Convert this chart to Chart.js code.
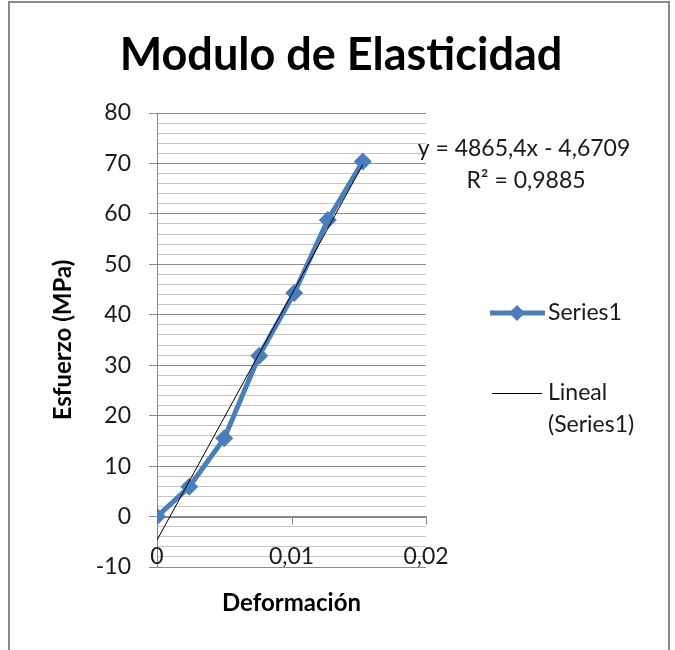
<!DOCTYPE html>
<html>
<head>
<meta charset="utf-8">
<script src="https://cdn.jsdelivr.net/npm/chart.js@4.4.0/dist/chart.umd.min.js"></script>
<style>
    html, body { margin: 0; padding: 0; background: #fff; }
    #wrap { width: 675px; height: 650px; position: relative; }
</style>
</head>
<body>
<div id="wrap"><canvas id="myChart" width="675" height="650"></canvas></div>
<script>
// data
const deformacion = [0, 0.0024, 0.005, 0.0076, 0.0102, 0.0127, 0.0153];
const esfuerzo = [0, 5.9, 15.5, 31.9, 44.3, 58.8, 70.4];
const xTicks = [0, 0.01, 0.02];
const yMin = -10, yMax = 80, yMinorStep = 2, yMajorStep = 10;

// linear trend line (Excel "Lineal")
const trendSlope = 4865.4;
const trendIntercept = -4.6709;
const trendR2 = 0.9885;

const FONT = 'Lato, "Open Sans", sans-serif';
const blue = '#4A7EBB';
const comma = v => String(v).replace('.', ',');

const seriesPts = deformacion.map((x, i) => ({ x: x, y: esfuerzo[i] }));
const xLast = Math.max(...deformacion);
const trendPts = [0, xLast].map(x => ({ x: x, y: trendSlope * x + trendIntercept }));

const decor = {
    id: 'decor',
    beforeDatasetsDraw(chart) {
        const { ctx, scales: { x, y } } = chart;
        const y0 = y.getPixelForValue(0);
        ctx.save();
        ctx.strokeStyle = '#868686';
        ctx.lineWidth = 1;
        ctx.beginPath();
        ctx.moveTo(x.left, Math.round(y0) + 0.5);
        ctx.lineTo(x.right, Math.round(y0) + 0.5);
        xTicks.forEach(v => {
            const px = Math.round(x.getPixelForValue(v)) + 0.5;
            ctx.moveTo(px, y0);
            ctx.lineTo(px, y0 + 8);
        });
        ctx.stroke();

        // x tick labels sit low, across the bottom gridlines
        ctx.fillStyle = '#1a1a1a';
        ctx.font = '23px ' + FONT;
        ctx.textAlign = 'center';
        ctx.textBaseline = 'middle';
        xTicks.forEach(v => ctx.fillText(comma(v), x.getPixelForValue(v), 557));
        ctx.restore();
    },
    afterDraw(chart) {
        const { ctx } = chart;
        const ds = chart.data.datasets;
        ctx.save();

        // chart title
        ctx.fillStyle = '#000';
        ctx.font = 'bold 45px ' + FONT;
        ctx.textAlign = 'center';
        ctx.textBaseline = 'alphabetic';
        ctx.fillText('Modulo de Elasticidad', 341, 70);

        ctx.fillStyle = '#1a1a1a';
        ctx.font = '23px ' + FONT;
        ctx.textBaseline = 'middle';

        // equation of the trend line
        ctx.fillText('y = ' + comma(trendSlope) + 'x - ' + comma(-trendIntercept), 524, 149);
        ctx.fillText('R\u00B2 = ' + comma(trendR2), 526, 181);

        // legend
        ctx.textAlign = 'left';
        ctx.strokeStyle = ds[1].borderColor;
        ctx.lineWidth = ds[1].borderWidth;
        ctx.beginPath();
        ctx.moveTo(490, 313);
        ctx.lineTo(545, 313);
        ctx.stroke();
        ctx.fillStyle = ds[1].backgroundColor;
        ctx.beginPath();
        ctx.moveTo(517, 305); ctx.lineTo(525, 313); ctx.lineTo(517, 321); ctx.lineTo(509, 313);
        ctx.closePath();
        ctx.fill();
        ctx.fillStyle = '#1a1a1a';
        ctx.fillText(ds[1].label, 548, 313);

        ctx.strokeStyle = ds[0].borderColor;
        ctx.lineWidth = ds[0].borderWidth;
        ctx.beginPath();
        ctx.moveTo(492, 393.5);
        ctx.lineTo(542, 393.5);
        ctx.stroke();
        ctx.fillText('Lineal', 548, 393);
        ctx.fillText('(' + ds[1].label + ')', 548, 425);

        // outer frame
        ctx.strokeStyle = '#8a8a8a';
        ctx.lineWidth = 2;
        ctx.strokeRect(9, 2, 660, 700);
        ctx.restore();
    }
};

const ctx = document.getElementById('myChart').getContext('2d');

new Chart(ctx, {
    type: 'scatter',
    data: {
        datasets: [{
            label: 'Lineal (Series1)',
            data: trendPts,
            showLine: true,
            borderColor: '#000',
            borderWidth: 1,
            pointRadius: 0,
            order: 0
        }, {
            label: 'Series1',
            data: seriesPts,
            showLine: true,
            borderColor: blue,
            backgroundColor: blue,
            borderWidth: 5,
            pointStyle: 'rectRot',
            pointRadius: 9,
            pointBorderWidth: 0,
            order: 1
        }]
    },
    options: {
        responsive: false,
        animation: false,
        layout: { padding: { left: 0, right: 249, top: 113, bottom: 0 } },
        plugins: {
            legend: { display: false },
            tooltip: { enabled: false },
            title: { display: false }
        },
        scales: {
            x: {
                type: 'linear',
                min: 0,
                max: 0.02,
                ticks: { display: false, stepSize: 0.01 },
                grid: { display: false, drawTicks: false },
                border: { display: false },
                title: {
                    display: true,
                    text: 'Deformación',
                    color: '#000',
                    font: { family: FONT, size: 24, weight: 'bold' },
                    padding: { top: 0, bottom: 32 }
                },
                afterFit: s => { s.height = 83; }
            },
            y: {
                min: yMin,
                max: yMax,
                ticks: {
                    stepSize: yMinorStep,
                    autoSkip: false,
                    callback: v => (v % yMajorStep === 0 ? v : ''),
                    color: '#1a1a1a',
                    font: { family: FONT, size: 23 },
                    padding: 18
                },
                grid: {
                    color: c => (c.tick && c.tick.value % yMajorStep === 0 ? '#8c8c8c' : '#c6c6c6'),
                    tickColor: c => (c.tick && c.tick.value % yMajorStep === 0 ? '#8c8c8c' : 'rgba(0,0,0,0)'),
                    tickLength: 8
                },
                border: { color: '#868686' },
                title: {
                    display: true,
                    text: 'Esfuerzo (MPa)',
                    color: '#000',
                    font: { family: FONT, size: 24, weight: 'bold' },
                    padding: { top: 49, bottom: 0 }
                },
                afterFit: s => { s.width = 157; }
            }
        }
    },
    plugins: [decor]
});
</script>
</body>
</html>
